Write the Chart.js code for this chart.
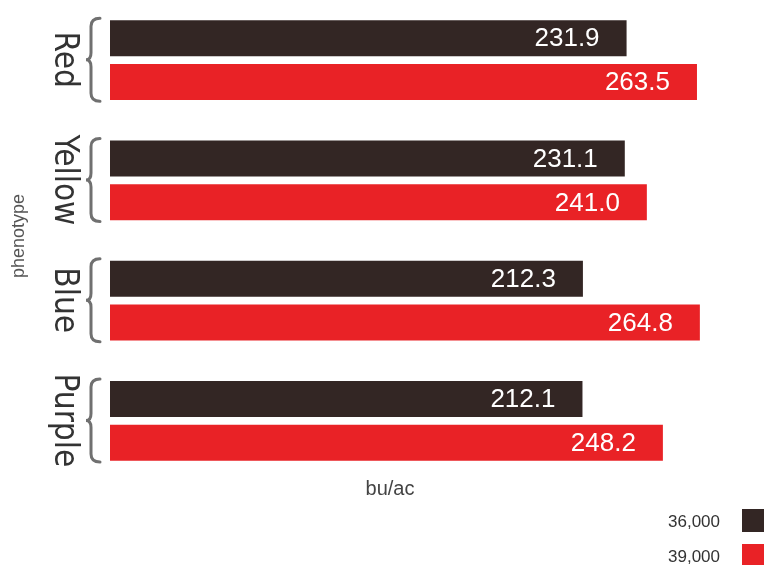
<!DOCTYPE html>
<html>
<head>
<meta charset="utf-8">
<title>Yield by phenotype</title>
<script src="https://cdn.jsdelivr.net/npm/chart.js@4.4.0/dist/chart.umd.min.js"></script>
<style>
    body { margin: 0; background: #ffffff; }
    #wrap { width: 764px; height: 565px; position: relative; }
</style>
</head>
<body>
<div id="wrap"><canvas id="bar-chart"></canvas></div>
<script>
// Data
const phenotypes = ['Red', 'Yellow', 'Blue', 'Purple'];
const population36 = [231.9, 231.1, 212.3, 212.1];
const population39 = [263.5, 241.0, 264.8, 248.2];
const seriesNames = ['36,000', '39,000'];
const seriesColors = ['#332624', '#e92226'];
const axisMax = 290;

const narrowFont = "'Liberation Sans Narrow', 'DejaVu Sans Condensed', 'Liberation Sans', sans-serif";
const bodyFont = "'Liberation Sans', 'DejaVu Sans', sans-serif";

// Braces, group names, values, titles and legend
const decorPlugin = {
    id: 'decor',
    afterDatasetsDraw(chart) {
        const ctx = chart.ctx;
        const yScale = chart.scales.y;

        // values inside the bar ends
        chart.data.datasets.forEach(function (ds, di) {
            chart.getDatasetMeta(di).data.forEach(function (bar, i) {
                ctx.save();
                ctx.fillStyle = '#ffffff';
                ctx.font = '26px ' + bodyFont;
                ctx.textAlign = 'right';
                ctx.textBaseline = 'middle';
                ctx.fillText(ds.data[i].toFixed(1), bar.x - 27, bar.y + 1);
                ctx.restore();
            });
        });

        phenotypes.forEach(function (name, i) {
            const cy = yScale.getPixelForValue(i);
            const top = cy - 42;
            const bottom = cy + 41;
            const mid = (top + bottom) / 2;

            // curly brace
            ctx.save();
            ctx.strokeStyle = '#707070';
            ctx.lineWidth = 3;
            ctx.lineCap = 'round';
            ctx.beginPath();
            ctx.moveTo(100, top);
            ctx.quadraticCurveTo(91, top, 91, top + 8);
            ctx.lineTo(91, mid - 7);
            ctx.quadraticCurveTo(91, mid, 86, mid);
            ctx.quadraticCurveTo(91, mid, 91, mid + 7);
            ctx.lineTo(91, bottom - 8);
            ctx.quadraticCurveTo(91, bottom, 100, bottom);
            ctx.stroke();
            ctx.restore();

            // group name, rotated
            ctx.save();
            ctx.translate(64, mid);
            ctx.rotate(Math.PI / 2);
            ctx.fillStyle = '#333333';
            ctx.font = '33px ' + narrowFont;
            ctx.textAlign = 'center';
            ctx.textBaseline = 'middle';
            ctx.fillText(name, 0, 0);
            ctx.restore();
        });

        // axis titles
        ctx.save();
        ctx.fillStyle = '#555555';
        ctx.font = '18px ' + bodyFont;
        ctx.textAlign = 'center';
        ctx.textBaseline = 'middle';
        ctx.translate(19, 236);
        ctx.rotate(-Math.PI / 2);
        ctx.fillText('phenotype', 0, 0);
        ctx.restore();

        ctx.save();
        ctx.fillStyle = '#444444';
        ctx.font = '20px ' + bodyFont;
        ctx.textAlign = 'center';
        ctx.textBaseline = 'middle';
        ctx.fillText('bu/ac', 390, 489);
        ctx.restore();

        // legend, box on the right of the text
        seriesNames.forEach(function (label, i) {
            const cy = 521 + i * 35;
            ctx.save();
            ctx.fillStyle = seriesColors[i];
            ctx.fillRect(742, cy - 12, 22, 23);
            ctx.fillStyle = '#333333';
            ctx.font = '17px ' + bodyFont;
            ctx.textAlign = 'right';
            ctx.textBaseline = 'middle';
            ctx.fillText(label, 720, cy + 1);
            ctx.restore();
        });
    }
};

const barChartData = {
    labels: phenotypes,
    datasets: [{
        label: seriesNames[0],
        data: population36,
        backgroundColor: seriesColors[0],
        categoryPercentage: 0.731,
        barPercentage: 0.818
    }, {
        label: seriesNames[1],
        data: population39,
        backgroundColor: seriesColors[1],
        categoryPercentage: 0.731,
        barPercentage: 0.818
    }]
};

const barChartElement = document.getElementById('bar-chart');
new Chart(barChartElement, {
    type: 'bar',
    data: barChartData,
    plugins: [decorPlugin],
    options: {
        indexAxis: 'y',
        responsive: true,
        maintainAspectRatio: false,
        animation: false,
        layout: { padding: { left: 110, right: 8, top: 0, bottom: 84 } },
        plugins: {
            legend: { display: false },
            tooltip: { enabled: false }
        },
        scales: {
            x: { display: false, min: 0, max: axisMax },
            y: { display: false }
        }
    }
});
</script>
</body>
</html>
